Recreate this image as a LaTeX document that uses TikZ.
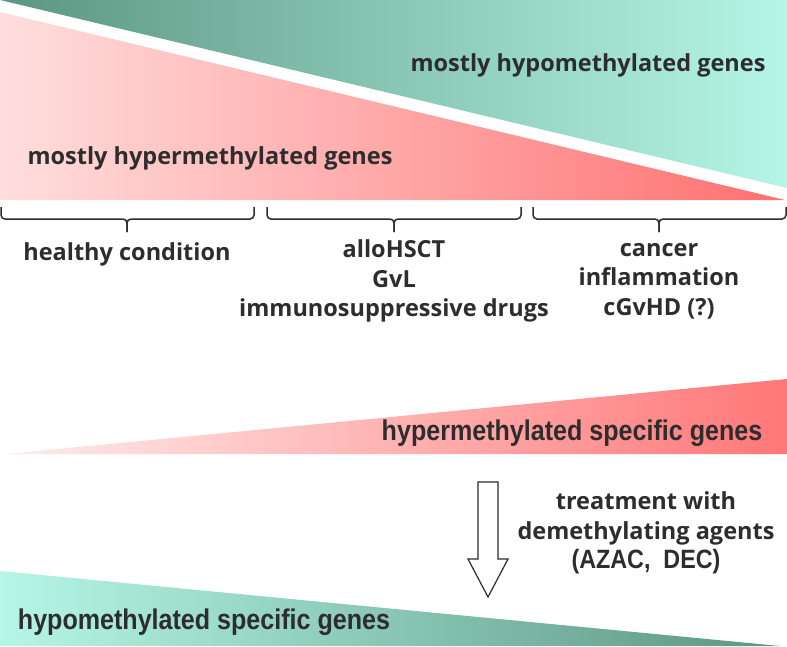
\documentclass[tikz,border=0pt]{standalone}
\usepackage{fontspec}
\setmainfont{Open Sans}
\newfontfamily\narrowsf{Liberation Sans}[FakeStretch=0.88]
\usetikzlibrary{positioning}

\definecolor{tealdark}{RGB}{92,150,130}
\definecolor{teallight}{RGB}{182,246,230}
\definecolor{pinklight}{RGB}{255,222,222}
\definecolor{reddeep}{RGB}{255,112,112}
\definecolor{pinkpale}{RGB}{255,236,236}
\definecolor{txtgray}{RGB}{45,45,45}

% brace under the upper wedge: left x, tip x, right x
\newcommand{\catbrace}[3]{%
  \draw[bracepen] (#1,207) |- (#2,219) -- (#2,232);
  \draw[bracepen] (#3,207) |- (#2,219) -- (#2,232);}

\begin{document}
\begin{tikzpicture}[x=1pt, y=-1pt,
    lbl/.style = {font=\bfseries\fontsize{23.5}{29.5}\selectfont, text=txtgray, align=center, inner sep=0pt},
    genes/.style = {font=\narrowsf\bfseries\fontsize{28.5}{30}\selectfont, text=txtgray, inner sep=0pt},
    bracepen/.style = {draw=txtgray, line width=1.5pt, rounded corners=4pt}]
        \useasboundingbox (0,0) rectangle (787,646);

        %Keile
        \shade[left color=tealdark, right color=teallight] (0,0) -- (787,0) -- (787,188) -- cycle;
        \shade[left color=pinklight, right color=reddeep] (0,12) -- (785,200) -- (0,200) -- cycle;
        \shade[left color=pinkpale, right color=reddeep!95] (5,454) -- (787,379) -- (787,454) -- cycle;
        \shade[left color=teallight, right color=tealdark] (0,571) -- (780,646) -- (0,646) -- cycle;

        %Texte
        \node[lbl] (hypo) at (588,65) {mostly hypomethylated genes};
        \node[lbl] (hyper) at (210,158) {mostly hypermethylated genes};

        \node[lbl] (healthy) at (127,254) {healthy condition};
        \node[lbl] (allo) at (394,281) {alloHSCT\\GvL\\immunosuppressive drugs};
        \node[lbl] (cancer) at (659,281) {cancer\\inflammation\\cGvHD (?)};

        \node[genes] (hyperspec) at (572,433) {hypermethylated specific genes};
        \node[genes] (hypospec) at (204,622) {hypomethylated specific genes};

        \node[lbl] (treat) at (646,533) {treatment with\\demethylating agents\\{\narrowsf\fontsize{26.5}{29.5}\selectfont(AZAC,~ DEC)}};

        %Klammern
        \catbrace{1}{127}{254}
        \catbrace{267}{394}{521}
        \catbrace{533}{659}{786}

        %Pfeil
        \draw[txtgray, line width=1.2pt, fill=white, line join=miter]
            (478,482) -- (498,482) -- (498,559) -- (508,559) -- (488,597)
            -- (468,559) -- (478,559) -- cycle;
\end{tikzpicture}
\end{document}
